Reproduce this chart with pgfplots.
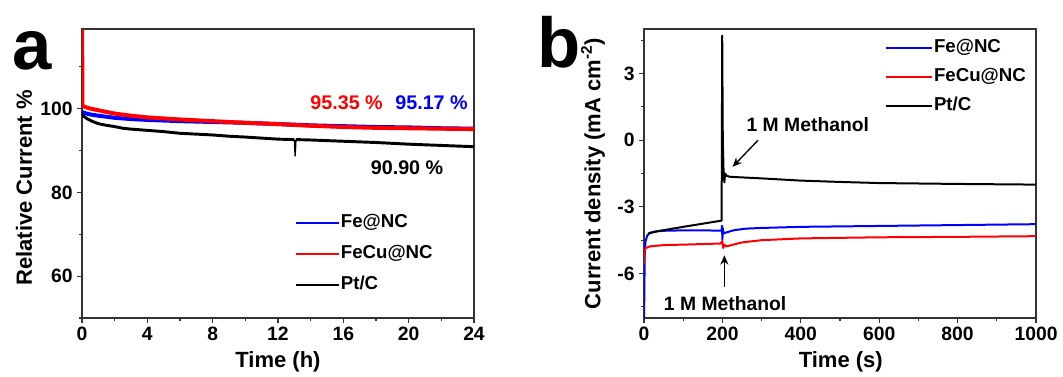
\documentclass[border=0pt]{standalone}
\usepackage{fontspec}
\setmainfont{Liberation Sans}
\usepackage{pgfplots}
\pgfplotsset{compat=1.18}
\usetikzlibrary{arrows.meta}

\pgfplotsset{
 myax/.style={
  scale only axis, width=294pt, height=216.75pt, anchor=south west,
  axis line style={line width=0.8pt, black!80},
  tick align=outside, xtick pos=bottom, ytick pos=left,
  major tick length=3.5pt, minor tick length=2pt,
  every tick/.style={black!80, line width=0.8pt},
  tick label style={font=\bfseries\fontsize{14.5}{14.5}\selectfont},
  label style={font=\bfseries\fontsize{16.5}{17}\selectfont},
  /pgf/number format/assume math mode=true,
  /pgf/number format/1000 sep={},
  legend style={draw=none, fill=none, inner sep=0pt, font=\bfseries\fontsize{14}{14}\selectfont,
     nodes={inner sep=1pt, text height=10pt, text depth=3pt}},
  legend cell align=left,
 }
}

\begin{document}
\begin{tikzpicture}
\path[use as bounding box] (0,0) rectangle (797.25pt,282.75pt);

% ---------------- panel a ----------------
\begin{axis}[myax, at={(61.5pt,44.25pt)},
  xmin=0, xmax=24, ymin=50, ymax=119,
  xtick={0,4,...,24}, minor xtick={2,6,...,22},
  ytick={60,80,100}, minor ytick={50,70,90,110},
  xlabel={Time (h)}, ylabel={Relative Current \%},
  xlabel style={at={(axis description cs:0.5,-0.152)}, anchor=center},
  ylabel style={at={(axis description cs:-0.148,0.45)}, anchor=center},
  legend style={at={(axis description cs:0.543,0.365)}, anchor=north west, row sep=8.25pt},
  legend image code/.code={\draw[#1, line width=1.3pt] (0pt,0pt) -- (32pt,0pt);},
]
\addplot[blue, line width=3pt, line join=round] coordinates {
(0,99.2) (0.2,98.9) (0.5,98.6) (1,98.3) (2,97.8) (3,97.5) (4,97.3) (6,97.0) (8,96.8)
(10,96.6) (12,96.3) (14,96.0) (16,95.8) (18,95.6) (20,95.5) (22,95.3) (24,95.2)};
\addlegendentry{Fe@NC}
\addplot[red, line width=3pt, line join=round] coordinates {
(0,125) (0.03,100.6) (0.5,100.0) (1,99.6) (2,98.8) (3,98.3) (4,97.9) (6,97.4) (8,97.0)
(10,96.6) (12,96.3) (14,95.9) (16,95.6) (18,95.4) (20,95.3) (22,95.2) (24,95.1)};
\addlegendentry{FeCu@NC}
\addplot[black, line width=2.2pt, line join=round] coordinates {
(0,98.8) (0.1,98.2) (0.3,97.6) (0.6,97.0) (1,96.4) (1.5,96.0) (2,95.7) (2.5,95.3) (3,95.1)
(4,94.8) (5,94.5) (6,94.1) (7,93.9) (8,93.7) (9,93.4) (10,93.2) (12,92.7) (13,92.6)};
\addlegendentry{Pt/C}
\addplot[black, line width=1pt, forget plot] coordinates {(13,92.6) (13.05,88.6) (13.1,92.6)};
\addplot[black, line width=2.2pt, line join=round, forget plot] coordinates {
(13.1,92.6) (14,92.5) (16,92.2) (18,91.9) (20,91.5) (22,91.2) (24,90.9)};
\node[text=red, font=\bfseries\fontsize{14.8}{15}\selectfont] at (axis cs:16.2,101.4) {95.35 \%};
\node[text=blue, font=\bfseries\fontsize{14.8}{15}\selectfont] at (axis cs:21.4,101.4) {95.17 \%};
\node[text=black, font=\bfseries\fontsize{14.8}{15}\selectfont] at (axis cs:19.9,86) {90.90 \%};
\end{axis}

% ---------------- panel b ----------------
\begin{axis}[myax, at={(483pt,44.25pt)},
  xmin=0, xmax=1000, ymin=-8, ymax=5,
  xtick={0,200,...,1000}, minor xtick={100,300,...,900},
  ytick={-6,-3,0,3}, minor ytick={-7.5,-4.5,-1.5,1.5,4.5},
  xlabel={Time (s)}, ylabel={Current density (mA cm\textsuperscript{-2})},
  xlabel style={at={(axis description cs:0.502,-0.152)}, anchor=center},
  ylabel style={at={(axis description cs:-0.13,0.5)}, anchor=center},
  legend style={at={(axis description cs:0.615,0.969)}, anchor=north west, row sep=6.75pt},
  legend image code/.code={\draw[#1] (0pt,0pt) -- (34pt,0pt);},
]
\addplot[blue, line width=1.5pt, line join=round] coordinates {
(0,-8.5) (1,-6.5) (2,-5.0) (4,-4.55) (8,-4.3) (15,-4.17) (30,-4.1) (60,-4.07) (100,-4.06)
(150,-4.06) (198,-4.07) (199,-3.85) (200,-4.5) (201,-3.95) (203,-4.2) (210,-4.15) (230,-4.05)
(260,-3.98) (300,-3.95) (400,-3.9) (600,-3.86) (800,-3.82) (1000,-3.78)};
\addlegendentry{Fe@NC}
\addplot[red, line width=1.5pt, line join=round] coordinates {
(0,-5.6) (2,-4.95) (5,-4.85) (15,-4.78) (50,-4.72) (100,-4.7) (195,-4.65) (200,-4.55)
(202,-4.85) (205,-4.7) (210,-4.78) (250,-4.6) (300,-4.5) (400,-4.42) (600,-4.37) (800,-4.35) (1000,-4.32)};
\addlegendentry{FeCu@NC}
\addplot[black, line width=1.5pt, line join=round] coordinates {
(10,-4.2) (40,-4.08) (100,-3.9) (198,-3.62) (199.5,4.7) (201,0) (203,-1.4) (205,-1.9) (207,-1.5)
(210,-1.6) (220,-1.65) (300,-1.72) (400,-1.82) (450,-1.85) (500,-1.88) (600,-1.93) (800,-1.97) (1000,-2.0)};
\addlegendentry{Pt/C}
\draw[-{Stealth[length=7pt,width=6pt]}, line width=1pt] (axis cs:291,0) -- (axis cs:226,-1.2);
\draw[-{Stealth[length=7pt,width=6pt]}, line width=1pt] (axis cs:205,-6.6) -- (axis cs:205,-5.18);
\node[font=\bfseries\fontsize{14.5}{14.5}\selectfont] at (axis cs:418,0.68) {1 M Methanol};
\node[font=\bfseries\fontsize{14.5}{14.5}\selectfont] at (axis cs:207,-7.35) {1 M Methanol};
\end{axis}

\node[anchor=base, font=\bfseries\fontsize{53}{53}\selectfont] at (24pt,230.25pt) {a};
\node[anchor=base, font=\bfseries\fontsize{53}{53}\selectfont] at (419.25pt,231.75pt) {b};
\end{tikzpicture}
\end{document}
